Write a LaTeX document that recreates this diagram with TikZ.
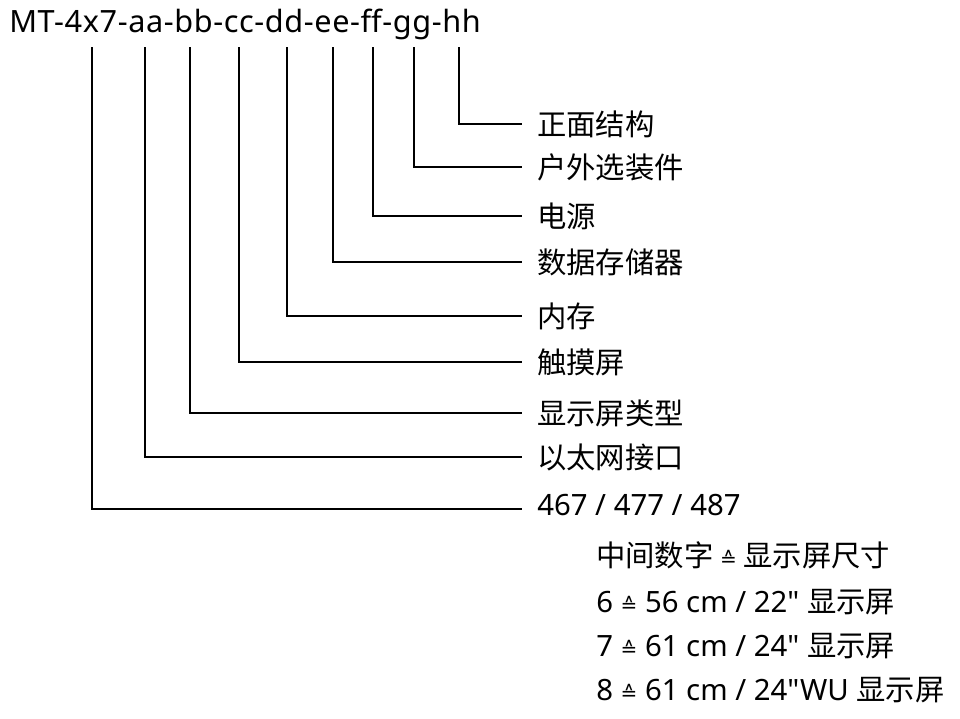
\documentclass[tikz,border=0pt]{standalone}
\usepackage{fontspec}
\setmainfont{Noto Sans}[Ligatures=TeXOff]
\newfontfamily\cjk{Noto Sans CJK SC}
\newfontfamily\symf{DejaVu Sans}
\newcommand\corr{{\symf\fontsize{15pt}{15pt}\selectfont ≙}}
\begin{document}
\begin{tikzpicture}[x=0.75pt,y=-0.75pt,
  lead/.style={line width=1.3pt,line cap=rect},
  lab/.style={anchor=west,inner sep=0pt,font=\fontsize{22pt}{26pt}\selectfont},
  codestyle/.style={anchor=base west,inner sep=0pt,font=\fontsize{23pt}{28pt}\selectfont}]
\useasboundingbox (0,0) rectangle (960,718);
\node[codestyle] (code) at (9,32) {\addfontfeatures{LetterSpace=2}MT-4x7-aa-bb-cc-dd-ee-ff-gg-hh};
% line tops
\coordinate (t1) at (92,48);
\coordinate (t2) at (145,48);
\coordinate (t3) at (190,48);
\coordinate (t4) at (239,48);
\coordinate (t5) at (287,48);
\coordinate (t6) at (333,48);
\coordinate (t7) at (373,48);
\coordinate (t8) at (414,48);
\coordinate (t9) at (459,48);
% labels
\node[lab] (l9) at (537,124) {\cjk 正面结构};
\node[lab] (l8) at (537,167) {\cjk 户外选装件};
\node[lab] (l7) at (537,216) {\cjk 电源};
\node[lab] (l6) at (537,262) {\cjk 数据存储器};
\node[lab] (l5) at (537,316) {\cjk 内存};
\node[lab] (l4) at (537,362) {\cjk 触摸屏};
\node[lab] (l3) at (537,413) {\cjk 显示屏类型};
\node[lab] (l2) at (537,457) {\cjk 以太网接口};
\node[lab] (l1) at (537,505) {467 / 477 / 487};
% connectors
\foreach \i in {2,...,9}{
  \draw[lead] (t\i) |- ([xshift=-12pt]l\i.west);
}
\draw[lead] (t1) |- ([xshift=-12pt,yshift=-3pt]l1.west);
% size table
\node[lab] (s0) at (596,555) {\cjk 中间数字 \corr{} 显示屏尺寸};
\node[lab] (s1) at (596,602) {6 \corr{} 56 cm / 22" {\cjk 显示屏}};
\node[lab] (s2) at (596,646) {7 \corr{} 61 cm / 24" {\cjk 显示屏}};
\node[lab] (s3) at (596,690) {8 \corr{} 61 cm / 24"WU {\cjk 显示屏}};
\end{tikzpicture}
\end{document}
